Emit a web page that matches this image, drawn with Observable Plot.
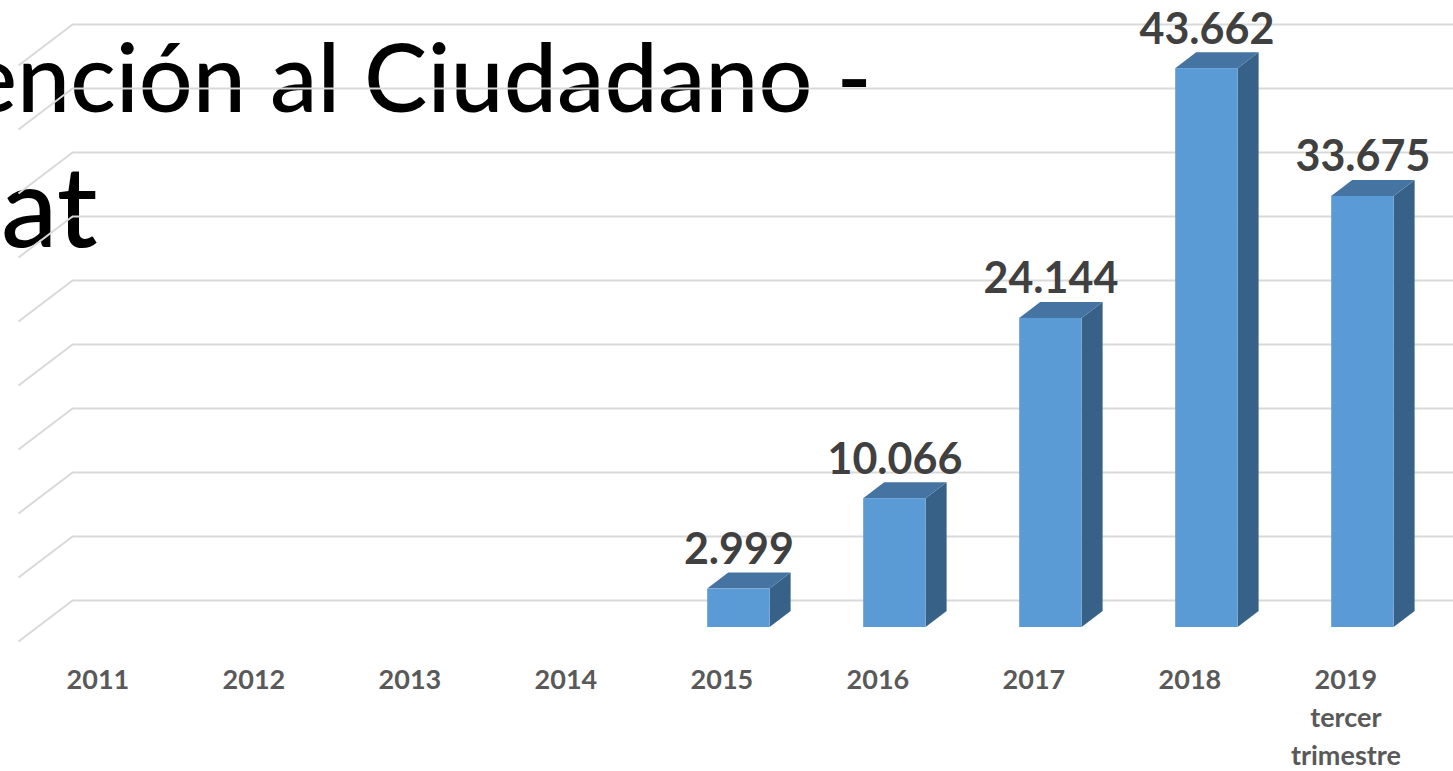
<!DOCTYPE html>
<html><head><meta charset="utf-8">
<script src="https://cdn.jsdelivr.net/npm/d3@7"></script>
<script src="https://cdn.jsdelivr.net/npm/@observablehq/plot@0.6"></script>
<style>
html,body{margin:0;padding:0;background:#fff;overflow:hidden;width:1453px;height:771px;}
#wrap{position:relative;width:1453px;height:771px;overflow:hidden;}
#title{position:absolute;left:0;top:0;width:1453px;height:771px;font-family:Lato,"Open Sans",sans-serif;font-weight:500;color:#000;z-index:0;}
#title span{position:absolute;white-space:nowrap;line-height:1;}
#t1{font-size:95px;}
#t2{font-size:113px;}
#chart{position:absolute;left:0;top:0;z-index:1;}
</style></head><body>
<div id="wrap">
  <div id="title"><span id="t1">Atención al Ciudadano -</span><span id="t2">Chat</span></div>
  <div id="chart"></div>
</div>
<script>
// ---- data ----
const categories = ["2011","2012","2013","2014","2015","2016","2017","2018","2019\ntercer\ntrimestre"];
const values = [null,null,null,null,2999,10066,24144,43662,33675];
const gridValues = [0,5000,10000,15000,20000,25000,30000,35000,40000,45000];

// ---- title placement (left part clipped as in the reference) ----
(function(){
  const c = document.createElement("canvas").getContext("2d");
  const t1 = document.getElementById("t1"), t2 = document.getElementById("t2");
  c.font = "500 95px Lato";
  t1.style.left = (-c.measureText("At").width - 33) + "px";
  c.font = "500 113px Lato";
  t2.style.left = (-c.measureText("Ch").width + 1) + "px";
  t1.style.top = "28px";
  t2.style.top = "147px";
})();

// ---- chart ----
const W = 1453, H = 771;
const mL = 36.4, mR = 12.6, mT = 51, mB = 144;
const kx = 9 / (W - mL - mR);          // category units per px
const ky = 45000 / (H - mT - mB);      // value units per px
const DX = 21, DY = 16;                // bar depth (px)
const dxu = DX * kx, dyv = DY * ky;
const WX = 35.6, WY = 27;              // back wall offset (px)
const hw = 0.2;

const fmt = d3.formatLocale({decimal: ",", thousands: ".", grouping: [3], currency: ["", "€"]}).format(",d");

const bars = categories.map((c, i) => ({i, c, v: values[i]})).filter(d => d.v != null);
const topFace = bars.flatMap(d => [
  {id: d.c, y: d.v, x1: d.i - hw, x2: d.i + hw},
  {id: d.c, y: d.v + dyv, x1: d.i - hw + dxu, x2: d.i + hw + dxu}
]);
const sideFace = bars.flatMap(d => [
  {id: d.c, x: d.i + hw, y1: 0, y2: d.v},
  {id: d.c, x: d.i + hw + dxu, y1: dyv, y2: d.v + dyv}
]);

const chart = Plot.plot({
  width: W, height: H,
  marginLeft: mL, marginRight: mR, marginTop: mT, marginBottom: mB,
  style: {fontFamily: "Lato, 'Open Sans', sans-serif", background: "transparent"},
  x: {type: "linear", domain: [-0.5, 8.5], axis: null},
  y: {domain: [0, 45000], axis: null},
  marks: [
    Plot.ruleY(gridValues, {y: d => d, x1: -0.5, x2: 9.5, dx: WX, dy: -WY, stroke: "#D9D9D9", strokeWidth: 2}),
    Plot.link(gridValues, {x1: -0.5, y1: d => d, x2: -0.5 - 54 * kx, y2: d => d - 41 * ky, dx: WX, dy: -WY, stroke: "#D9D9D9", strokeWidth: 2}),
    Plot.areaY(sideFace, {x: "x", y1: "y1", y2: "y2", z: "id", fill: "#386187"}),
    Plot.areaX(topFace, {y: "y", x1: "x1", x2: "x2", z: "id", fill: "#4574A3"}),
    Plot.rect(bars, {x1: d => d.i - hw, x2: d => d.i + hw, y1: 0, y2: "v", fill: "#5B9BD5"}),
    Plot.text(bars, {x: "i", y: "v", text: d => fmt(d.v), dy: -25, lineAnchor: "bottom", fontSize: 43, fontWeight: "bold", fill: "#404040"}),
    Plot.axisX(d3.range(categories.length), {tickFormat: i => categories[i], tickSize: 0, tickPadding: 34, dx: -17, fontSize: 27, fontWeight: "bold", fill: "#595959", lineHeight: 1.42, label: null})
  ]
});
document.getElementById("chart").appendChild(chart);
</script>
</body></html>
